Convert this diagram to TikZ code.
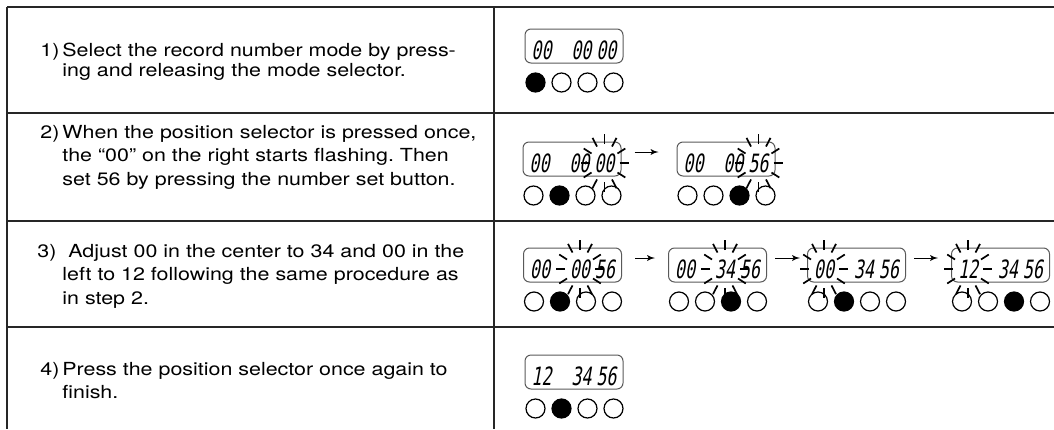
\documentclass[tikz,border=0pt]{standalone}
\usepackage{fontspec}
\setmainfont[FakeStretch=1.19]{TeX Gyre Heros}
\newfontfamily\lcdfont[FakeStretch=0.66,FakeSlant=0.18]{DejaVu Sans Mono}
\usetikzlibrary{arrows,positioning,calc}
\tikzstyle{rule} = [draw=black!85, line width=0.7pt]
\tikzstyle{stepno} = [anchor=base west, inner sep=0pt, font=\fontsize{9}{11.75}\selectfont]
\tikzstyle{steptext} = [anchor=base west, inner sep=0pt, text width=240pt, align=left,
    font=\fontsize{9}{11.75}\selectfont]
\tikzstyle{lcd} = [draw=black!65, rounded corners=3pt, line width=0.5pt,
    minimum width=49pt, minimum height=17pt, inner sep=0pt,
    text height=13pt, text depth=0pt, font=\lcdfont\fontsize{12.6}{13}\selectfont]
\tikzstyle{key} = [draw, line width=0.6pt]
\tikzstyle{ray} = [draw, line width=0.85pt]
\tikzstyle{line} = [draw, -latex']
\newcommand\lcdtext[3]{\makebox[10pt]{#1}\hspace{10pt}\makebox[10pt]{#2}\hspace{2.5pt}\makebox[10pt]{#3}}
\newcommand\keys[2]{%
  \foreach \k in {1,...,4}
    \draw[key] ($(#1.south west)+(-15+26*\k,19)$) circle[radius=4.75pt];
  \fill ($(#1.south west)+(-15+26*#2,19)$) circle[radius=4.75pt];}
\newcommand\flash[2]{%
  \foreach \a in {0,30,...,330}
    \draw[ray] ($(#1.center)+(#2,4)+(\a:7.5pt and 9.5pt)$) -- ($(#1.center)+(#2,4)+(\a:12pt and 14.5pt)$);}

\begin{document}
\frenchspacing
\begin{tikzpicture}[x=0.5pt, y=-0.5pt]
    \useasboundingbox (0,0) rectangle (1054,429);
    % Table
    \foreach \y in {7,113,221,327}
        \draw[rule] (7,\y) -- (1054,\y);
    \draw[rule] (7,7) -- (7,429);
    \draw[rule] (494,7) -- (494,429);
    % Steps
    \node [stepno] (no1) at (40,56) {1)};
    \node [steptext, font=\fontsize{9}{10}\selectfont] (text1) at (62,56)
        {Select the record number mode by press-\\ing and releasing the mode selector.};
    \node [stepno] (no2) at (40,138) {2)};
    \node [steptext] (text2) at (62,138)
        {When the position selector is pressed once,\\the “00” on the right starts flashing. Then\\set 56 by pressing the number set button.};
    \node [stepno] (no3) at (37,257) {3)};
    \node [steptext] (text3) at (62,257)
        {\hspace*{3pt}Adjust 00 in the center to 34 and 00 in the\\left to 12 following the same procedure as\\in step 2.};
    \node [stepno] (no4) at (40,375) {4)};
    \node [steptext] (text4) at (62,375)
        {Press the position selector once again to\\finish.};
    % Displays
    \node [lcd] (mode) at (574,46) {\lcdtext{00}{00}{00}};
    \node [lcd] (flashR) at (572,159) {\lcdtext{00}{00}{00}};
    \node [lcd, right=27.5pt of flashR] (setR) {\lcdtext{00}{00}{56}};
    \node [lcd] (flashC) at (572.5,265) {\lcdtext{00}{00}{56}};
    \node [lcd, right=23pt of flashC] (setC) {\lcdtext{00}{34}{56}};
    \node [lcd, right=20pt of setC] (flashL) {\lcdtext{00}{34}{56}};
    \node [lcd, right=22.5pt of flashL] (setL) {\lcdtext{12}{34}{56}};
    \node [lcd] (done) at (574,372) {\lcdtext{12}{34}{56}};
    % Keys
    \keys{mode}{1}
    \keys{flashR}{2}
    \keys{setR}{3}
    \keys{flashC}{2}
    \keys{setC}{3}
    \keys{flashL}{2}
    \keys{setL}{3}
    \keys{done}{2}
    % Flashing digits
    \flash{flashR}{32.5}
    \flash{setR}{32.5}
    \flash{flashC}{7.5}
    \flash{setC}{7.5}
    \flash{flashL}{-32.5}
    \flash{setL}{-32.5}
    % Draw edges
    \path [line, shorten <=6.5pt, shorten >=9pt] ([yshift=3.5pt]flashR.east) -- ([yshift=3.5pt]setR.west);
    \path [line, shorten <=6.5pt, shorten >=6.5pt] ([yshift=3.5pt]flashC.east) -- ([yshift=3.5pt]setC.west);
    \path [line, shorten <=4pt, shorten >=3.5pt] ([yshift=3.5pt]setC.east) -- ([yshift=3.5pt]flashL.west);
    \path [line, shorten <=4pt, shorten >=6.5pt] ([yshift=3.5pt]flashL.east) -- ([yshift=3.5pt]setL.west);
\end{tikzpicture}
\end{document}
